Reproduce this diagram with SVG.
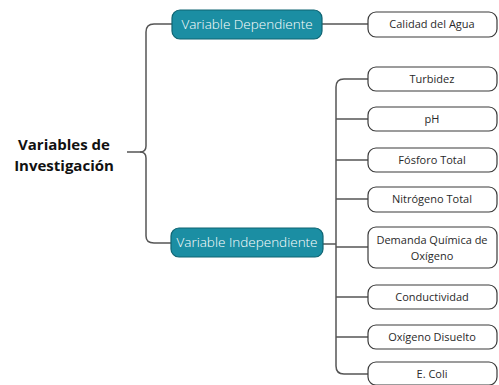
<svg xmlns="http://www.w3.org/2000/svg" width="499" height="385" viewBox="0 0 499 385">
<style>
.c{fill:none;stroke:#555;stroke-width:1.5}
.t{fill:#1b8ea3;stroke:#0f6472;stroke-width:1.2}
.tt{fill:#fff;font-family:"Open Sans",sans-serif;font-size:13.5px;font-weight:300;text-anchor:middle}
.w{fill:#fff;stroke:#3a3a3a;stroke-width:1.2}
.wt{fill:#2a2a2a;font-family:"Open Sans",sans-serif;font-size:11px;text-anchor:middle}
.h{fill:#111;font-family:"Open Sans",sans-serif;font-size:15px;font-weight:bold;text-anchor:middle}
</style>
<rect width="499" height="385" fill="#fff"/>
<g id="connectors">
<path class="c" d="M127,152 H140 Q146,152 146,146 V32 Q146,24 154,24 H172"/>
<path class="c" d="M140,152 Q146,152 146,158 V236 Q146,243 154,243 H171"/>
<path class="c" d="M322,24 H368"/>
<path class="c" d="M323,244 H336"/>
<path class="c" d="M368,79 H344 Q336,79 336,87 V366 Q336,374 344,374 H368"/>
<path class="c" d="M336,119 H368 M336,160 H368 M336,199 H368 M336,247 H368 M336,297 H368 M336,337 H368"/>
</g>
<g id="root"><text class="h" x="64" y="150">Variables de</text><text class="h" x="64" y="171">Investigación</text></g>
<g id="dep"><rect class="t" x="172" y="10" width="150" height="29" rx="8"/><text class="tt" x="247" y="29">Variable Dependiente</text></g>
<g id="indep"><rect class="t" x="171" y="228" width="152" height="29" rx="8"/><text class="tt" x="247" y="247">Variable Independiente</text></g>
<g id="calidad"><rect class="w" x="368" y="12" width="129" height="25" rx="8"/><text class="wt" x="432" y="28">Calidad del Agua</text></g>
<g id="turbidez"><rect class="w" x="368" y="67" width="129" height="24" rx="8"/><text class="wt" x="432" y="83">Turbidez</text></g>
<g id="ph"><rect class="w" x="368" y="107" width="129" height="24" rx="8"/><text class="wt" x="432" y="123">pH</text></g>
<g id="fosforo"><rect class="w" x="368" y="148" width="129" height="24" rx="8"/><text class="wt" x="432" y="164">Fósforo Total</text></g>
<g id="nitrogeno"><rect class="w" x="368" y="187" width="129" height="25" rx="8"/><text class="wt" x="432" y="203">Nitrógeno Total</text></g>
<g id="demanda"><rect class="w" x="368" y="227" width="129" height="41" rx="8"/><text class="wt" x="432" y="244">Demanda Química de</text><text class="wt" x="432" y="260">Oxígeno</text></g>
<g id="conductividad"><rect class="w" x="368" y="285" width="129" height="24" rx="8"/><text class="wt" x="432" y="301">Conductividad</text></g>
<g id="oxigeno"><rect class="w" x="368" y="325" width="129" height="24" rx="8"/><text class="wt" x="432" y="341">Oxígeno Disuelto</text></g>
<g id="ecoli"><rect class="w" x="368" y="362" width="129" height="23" rx="8"/><text class="wt" x="432" y="378">E. Coli</text></g>
</svg>
